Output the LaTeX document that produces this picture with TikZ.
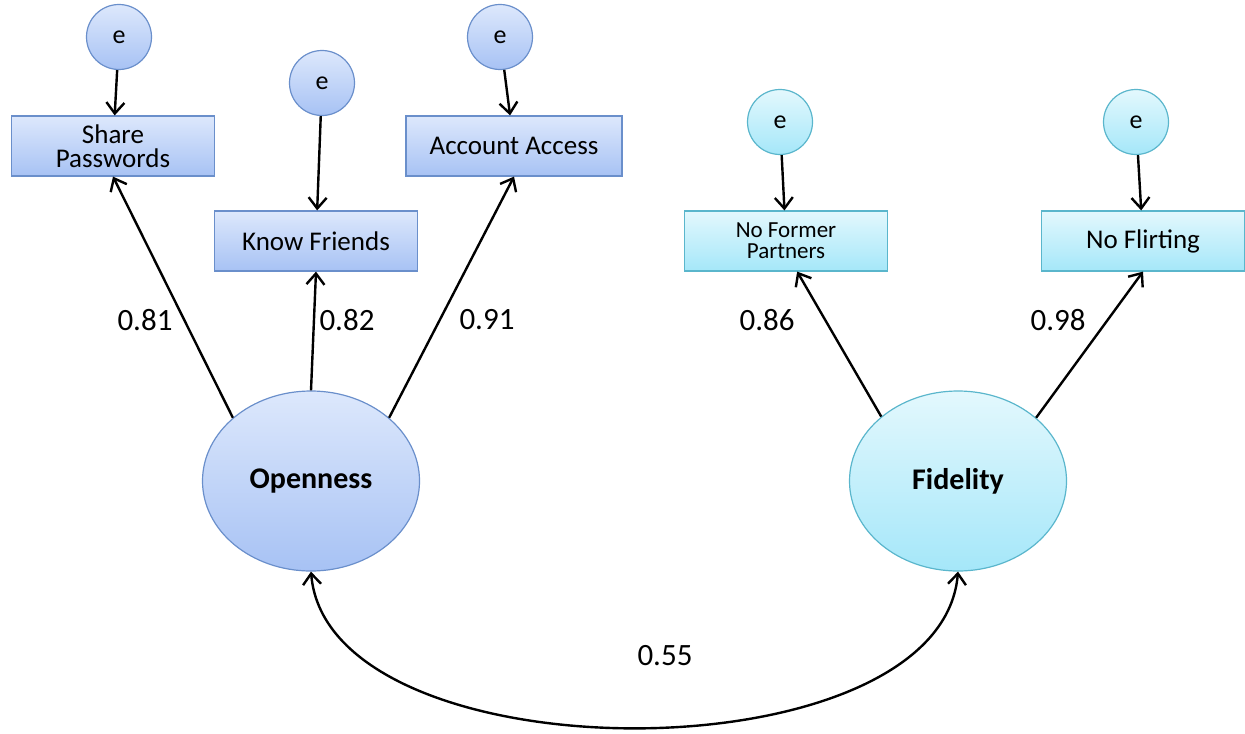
\documentclass[tikz,border=0pt]{standalone}
\usepackage{fontspec}
\setmainfont{Carlito}
\usepackage{tikz}
\usetikzlibrary{arrows.meta, positioning, calc, shapes.geometric}
\definecolor{bluetop}{HTML}{DDE8FC}
\definecolor{bluebot}{HTML}{A7C2F4}
\definecolor{blueline}{HTML}{6A8FCB}
\definecolor{cyantop}{HTML}{E3F8FD}
\definecolor{cyanbot}{HTML}{A5E7F9}
\definecolor{cyanline}{HTML}{5AB6CC}

\begin{document}
\begin{tikzpicture}[x=0.5pt, y=-0.5pt,
    blue/.style={draw=blueline, top color=bluetop, bottom color=bluebot, line width=0.6pt},
    cyan/.style={draw=cyanline, top color=cyantop, bottom color=cyanbot, line width=0.6pt},
    err/.style={circle, minimum size=32.5pt, inner sep=0pt, font=\fontsize{13}{14}\selectfont},
    indicator/.style={rectangle, minimum width=101.5pt, minimum height=30pt, inner sep=0pt, align=center, font=\fontsize{13.5}{12}\selectfont},
    latent/.style={ellipse, minimum width=108.5pt, minimum height=90pt, inner sep=0pt, font=\fontsize{15}{16}\selectfont\bfseries},
    weight/.style={font=\fontsize{15.5}{16}\selectfont},
    ->, >={Straight Barb[length=5.5pt, width=9pt]}, line width=1.2pt]
        \useasboundingbox (0,0) rectangle (1245,733);
        % latent factors
        \node[latent, blue] (open) at (311,481) {Openness};
        \node[latent, cyan] (fid) at (958,481) {Fidelity};
        % observed items
        \node[indicator, blue] (sp) at (113,146) {Share\\Passwords};
        \node[indicator, blue] (kf) at (316,241) {Know Friends};
        \node[indicator, blue, minimum width=108pt] (aa) at (514,146) {Account Access};
        \node[indicator, cyan, font=\fontsize{11.5}{10.5}\selectfont] (nf) at (786,241) {No Former\\Partners};
        \node[indicator, cyan] (nfl) at (1143,241) {No Flirting};
        % error terms
        \node[err, blue] (e1) at (119,37) {e};
        \node[err, blue] (e2) at (322,83) {e};
        \node[err, blue] (e3) at (500,37) {e};
        \node[err, cyan] (e4) at (780,122) {e};
        \node[err, cyan] (e5) at (1136,122) {e};
        \draw (e1) -- (sp);
        \draw (e2) -- (kf);
        \draw (e3) -- (aa);
        \draw (e4) -- (nf);
        \draw (e5) -- (nfl);
        % loadings
        \draw (open.141) -- (sp.south);
        \draw (open.north) -- (kf.south);
        \draw (open.39) -- (aa.south);
        \draw (fid.140) -- (nf.290);
        \draw (fid.39) -- (nfl.south);
        \node[weight] (w1) at (145,320) {0.81};
        \node[weight] (w2) at (347,320) {0.82};
        \node[weight] (w3) at (487,320) {0.91};
        \node[weight] (w4) at (767,320) {0.86};
        \node[weight] (w5) at (1058,320) {0.98};
        % covariance
        \draw[<->] (open.south) .. controls +(17,208) and +(-17,208) .. (fid.south);
        \node[weight] (cov) at (665,656) {0.55};
    \end{tikzpicture}
\end{document}
